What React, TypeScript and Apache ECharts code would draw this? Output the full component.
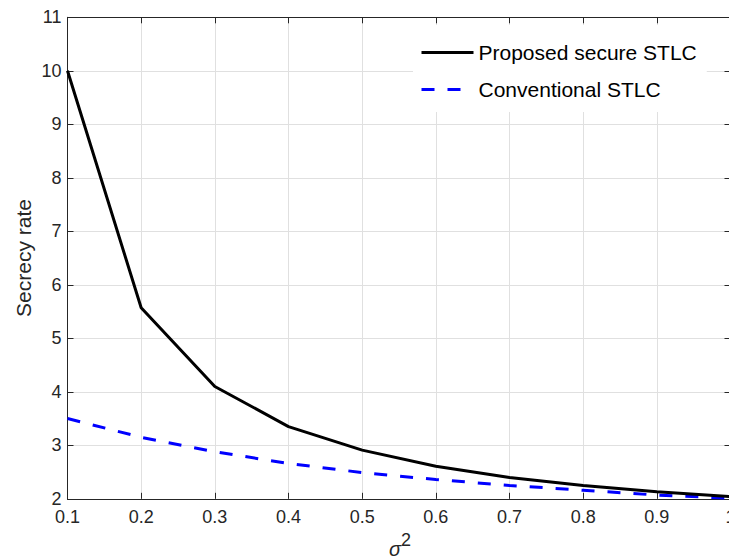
import React, { useEffect, useRef } from "react";
import * as echarts from "echarts";

const xValues = [0.1, 0.2, 0.3, 0.4, 0.5, 0.6, 0.7, 0.8, 0.9, 1.0];
const proposedSecure = [10, 5.57, 4.1, 3.35, 2.91, 2.61, 2.4, 2.25, 2.13, 2.04];
const conventional = [3.5, 3.15, 2.88, 2.66, 2.49, 2.36, 2.25, 2.16, 2.07, 2.01];
const seriesNames = ["Proposed secure STLC", "Conventional STLC"];
const yLabel = "Secrecy rate";

const FONT = "'Liberation Sans', Arial, Helvetica, sans-serif";
const AXIS = "#262626";
const GRID = "#e0e0e0";

export default function App() {
  const ref = useRef<HTMLDivElement>(null);
  useEffect(() => {
    if (!ref.current) return;
    const chart = echarts.init(ref.current, undefined, { renderer: "svg" });
    const fmtX = (v: number) => (Math.abs(v - 1) < 1e-9 ? "1" : v.toFixed(1));
    const tickCommon = { show: true, inside: true, length: 6, lineStyle: { color: AXIS, width: 1 } };
    chart.setOption({
      animation: false,
      backgroundColor: "#ffffff",
      textStyle: { fontFamily: FONT },
      grid: {
        left: 67.5,
        right: -1.5,
        top: 17.3,
        bottom: 61.2,
        containLabel: false,
        outerBoundsMode: "none",
      },
      legend: {
        orient: "vertical",
        left: 413,
        top: 25,
        backgroundColor: "#ffffff",
        padding: [17, 10, 12, 7],
        itemWidth: 52,
        itemHeight: 14,
        itemGap: 16,
        itemStyle: { color: "transparent", borderWidth: 0, opacity: 0 },
        lineStyle: { width: 3 },
        textStyle: { fontSize: 21, color: "#000", fontFamily: FONT },
        data: seriesNames,
      },
      xAxis: [
        {
          type: "value",
          min: 0.1,
          max: 1.0,
          interval: 0.1,
          position: "bottom",
          axisLine: { show: true, lineStyle: { color: AXIS, width: 1 } },
          axisTick: tickCommon,
          axisLabel: { formatter: fmtX, fontSize: 18, color: AXIS, margin: 9, fontFamily: FONT },
          splitLine: { show: true, lineStyle: { color: GRID, width: 1 } },
        },
        {
          type: "value",
          min: 0.1,
          max: 1.0,
          interval: 0.1,
          position: "top",
          axisLine: { show: true, lineStyle: { color: AXIS, width: 1 } },
          axisTick: tickCommon,
          axisLabel: { show: false },
          splitLine: { show: false },
        },
      ],
      yAxis: [
        {
          type: "value",
          min: 2,
          max: 11,
          interval: 1,
          position: "left",
          axisLine: { show: true, lineStyle: { color: AXIS, width: 1 } },
          axisTick: tickCommon,
          axisLabel: { fontSize: 18, color: AXIS, margin: 6, fontFamily: FONT },
          splitLine: { show: true, lineStyle: { color: GRID, width: 1 } },
        },
        {
          type: "value",
          min: 2,
          max: 11,
          interval: 1,
          position: "right",
          axisLine: { show: true, lineStyle: { color: AXIS, width: 1 } },
          axisTick: tickCommon,
          axisLabel: { show: false },
          splitLine: { show: false },
        },
      ],
      series: [
        {
          name: seriesNames[0],
          type: "line",
          symbol: "none",
          data: xValues.map((x, i) => [x, proposedSecure[i]]),
          lineStyle: { color: "#000000", width: 3 },
          itemStyle: { color: "#000000" },
          z: 3,
        },
        {
          name: seriesNames[1],
          type: "line",
          symbol: "none",
          data: xValues.map((x, i) => [x, conventional[i]]),
          lineStyle: { color: "#0000ff", width: 3, type: [13, 13], cap: "butt" },
          itemStyle: { color: "#0000ff" },
          z: 2,
        },
      ],
      graphic: [
        {
          type: "text",
          x: 23,
          y: 258,
          rotation: Math.PI / 2,
          style: {
            text: yLabel,
            fontSize: 21,
            fontFamily: FONT,
            fill: AXIS,
            textAlign: "center",
            textVerticalAlign: "middle",
          },
        },
        {
          type: "text",
          x: 395,
          y: 549,
          style: {
            text: "σ",
            fontSize: 20,
            fontStyle: "italic",
            fontFamily: FONT,
            fill: AXIS,
            textAlign: "center",
            textVerticalAlign: "middle",
          },
        },
        {
          type: "text",
          x: 401,
          y: 540,
          style: {
            text: "2",
            fontSize: 18,
            fontFamily: FONT,
            fill: AXIS,
            textAlign: "left",
            textVerticalAlign: "middle",
          },
        },
      ],
    });
    return () => chart.dispose();
  }, []);
  return (
    <div
      ref={ref}
      style={{ position: "absolute", left: 0, top: 0, width: 729, height: 560, background: "#fff" }}
    />
  );
}
